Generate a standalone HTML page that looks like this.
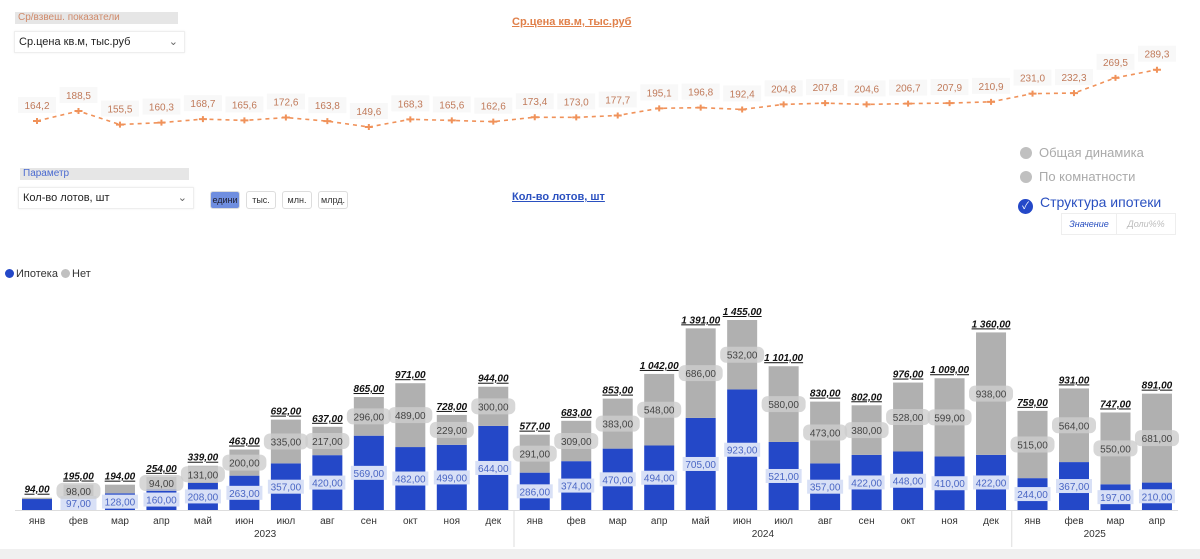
<!DOCTYPE html>
<html><head><meta charset="utf-8">
<style>
body{margin:0;width:1200px;height:559px;background:#fff;font-family:"Liberation Sans","Noto Sans CJK SC",sans-serif;position:relative;overflow:hidden}
.abs{position:absolute}
.hdr{background:#e6e6e6;font-size:10px;height:12px;line-height:12px;padding-left:3px}
.dd{border:1px solid #eee;background:#fff;font-size:11px;color:#222;height:20px;line-height:20px;padding-left:4px;box-shadow:0 0 2px #eee}
.btn{font-size:9px;height:16px;line-height:16px;border:1px solid #ddd;border-radius:3px;text-align:center;color:#333}
.opt{font-size:13px;color:#aaa}
.dot{display:inline-block;width:12px;height:12px;border-radius:6px;vertical-align:-2px;margin-right:7px;background:#c0c0c0}
</style></head><body>
<div class="abs hdr" style="left:15px;top:12px;width:160px;color:#d08a6a">Ср/взвеш. показатели</div>
<div class="abs dd" style="left:14px;top:31px;width:165px">Ср.цена кв.м, тыс.руб<span style="position:absolute;right:6px;color:#666">&#8964;</span></div>
<div class="abs" style="left:512px;top:16px;font-size:11px;font-weight:bold;color:#e0804a;text-decoration:underline">Ср.цена кв.м, тыс.руб</div>
<div class="abs hdr" style="left:20px;top:168px;width:166px;color:#4a6ad0">Параметр</div>
<div class="abs dd" style="left:18px;top:187px;width:170px">Кол-во лотов, шт<span style="position:absolute;right:6px;color:#666">&#8964;</span></div>
<div class="abs btn" style="left:210px;top:191px;width:28px;background:#6f8ee0;color:#223">едини</div>
<div class="abs btn" style="left:246px;top:191px;width:28px">тыс.</div>
<div class="abs btn" style="left:282px;top:191px;width:28px">млн.</div>
<div class="abs btn" style="left:318px;top:191px;width:28px">млрд.</div>
<div class="abs" style="left:512px;top:191px;font-size:11px;font-weight:bold;color:#2a50c0;text-decoration:underline">Кол-во лотов, шт</div>
<div class="abs opt" style="left:1020px;top:145px"><span class="dot"></span>Общая динамика</div>
<div class="abs opt" style="left:1020px;top:169px"><span class="dot"></span>По комнатности</div>
<div class="abs opt" style="left:1018px;top:194px;color:#2a50c0;font-size:14px"><span class="dot" style="background:#2448c8;width:15px;height:15px;border-radius:8px;color:#fff;font-size:10px;text-align:center;line-height:15px">&#10003;</span>Структура ипотеки</div>
<div class="abs" style="left:1061px;top:213px;width:54px;height:20px;border:1px solid #eee;font-size:9px;font-style:italic;color:#2a50c0;text-align:center;line-height:20px">Значение</div>
<div class="abs" style="left:1116px;top:213px;width:58px;height:20px;border:1px solid #eee;font-size:9px;font-style:italic;color:#bbb;text-align:center;line-height:20px">Доли%%</div>
<div class="abs" style="left:5px;top:268px;font-size:11px;color:#333"><span><span class="dot" style="background:#2448c8;width:9px;height:9px;margin-right:2px;vertical-align:-1px"></span>Ипотека</span> <span><span class="dot" style="width:9px;height:9px;margin-right:2px;vertical-align:-1px"></span>Нет</span></div>
<div class="abs" style="left:0;top:549px;width:1200px;height:10px;background:#f0f0f0"></div>
<svg class="abs" style="left:0;top:0" width="1200" height="559" id="svg"></svg>
<script>
const months=["янв","фев","мар","апр","май","июн","июл","авг","сен","окт","ноя","дек","янв","фев","мар","апр","май","июн","июл","авг","сен","окт","ноя","дек","янв","фев","мар","апр"];
const prices=[164.2,188.5,155.5,160.3,168.7,165.6,172.6,163.8,149.6,168.3,165.6,162.6,173.4,173.0,177.7,195.1,196.8,192.4,204.8,207.8,204.6,206.7,207.9,210.9,231.0,232.3,269.5,289.3];
const mortgage=[84,97,128,160,208,263,357,420,569,482,499,644,286,374,470,494,705,923,521,357,422,448,410,422,244,367,197,210];
const noMortgage=[10,98,66,94,131,200,335,217,296,489,229,300,291,309,383,548,686,532,580,473,380,528,599,938,515,564,550,681];
const totals=[94,195,194,254,339,463,692,637,865,971,728,944,577,683,853,1042,1391,1455,1101,830,802,976,1009,1360,759,931,747,891];
const years=[{label:"2023",from:0,to:11},{label:"2024",from:12,to:23},{label:"2025",from:24,to:27}];
const svg=document.getElementById('svg');const NS="http://www.w3.org/2000/svg";
function mk(t,a,txt){const e=document.createElementNS(NS,t);for(const k in a)e.setAttribute(k,a[k]);if(txt!==undefined)e.textContent=txt;svg.appendChild(e);return e;}
const xOf=i=>37+i*41.48;
const yP=v=>121-(v-164.2)*0.41;
const base=510,k=190/1455;const yB=v=>base-v*k;
let d=prices.map((v,i)=>(i?'L':'M')+xOf(i)+','+yP(v)).join(' ');
let ln=mk('path',{d:d,fill:'none',stroke:'#f0925a','stroke-width':1.6,'stroke-dasharray':'4,4'});


prices.forEach((v,i)=>{
 const x=xOf(i),y=yP(v);
 const p=mk('path',{d:`M${x-4},${y}H${x+4}M${x},${y-3}V${y+3}`,stroke:'#f0925a','stroke-width':2});
 
 
 mk('rect',{x:x-19,y:y-24,width:38,height:16,fill:'#f8f8f8'});
 const t=mk('text',{x:x,y:y-12,'text-anchor':'middle','font-size':10,fill:'#c07a5a'},v.toFixed(1).replace('.',','));
 
 
});
const fmt=v=>{let s=String(v);if(v>=1000)s=s.slice(0,-3)+' '+s.slice(-3);return s+',00';};
mortgage.forEach((m,i)=>{
 const x=xOf(i),w=30,n=noMortgage[i];
 const yb=yB(m),yg=yB(m+n);
 const rb=mk('rect',{x:x-w/2,y:yb,width:w,height:base-yb,fill:'#2448c8'});
 
 
 const rg=mk('rect',{x:x-w/2,y:yg,width:w,height:yb-yg,fill:'#b0b0b0'});
 
 
 if(i>0){
  const cb=Math.min((yb+base)/2,503);
  mk('rect',{x:x-18,y:cb-7,width:36,height:14,fill:'#d8e0f6'});
  const tb=mk('text',{x:x,y:cb+4,'text-anchor':'middle','font-size':10,fill:'#4a66c4'},fmt(m));
  
  
  if(n>=80){
   const cg=(yb+yg)/2;
   mk('rect',{x:x-22,y:cg-8,width:44,height:16,rx:6,fill:'#cdcdcd',opacity:0.8});
   const tg=mk('text',{x:x,y:cg+4,'text-anchor':'middle','font-size':10,fill:'#444'},fmt(n));
   
   
  }
 }
 const tt=mk('text',{x:x,y:yg-5,'text-anchor':'middle','font-size':10,'font-weight':'bold','font-style':'italic','text-decoration':'underline',fill:'#111'},fmt(totals[i]));
 
 
 const ml=mk('text',{x:x,y:524,'text-anchor':'middle','font-size':10,fill:'#333'},months[i]);
 
 
});
mk('line',{x1:15,x2:1178,y1:510.5,y2:510.5,stroke:'#ddd'});
years.forEach(yr=>{
 const x=(xOf(yr.from)+xOf(yr.to))/2;
 const t=mk('text',{x:x,y:537,'text-anchor':'middle','font-size':10,fill:'#333'},yr.label);
 
 
 if(yr.from>0){const sx=(xOf(yr.from)+xOf(yr.from-1))/2;mk('line',{x1:sx,x2:sx,y1:510,y2:547,stroke:'#ddd'});}
});
</script>
</body></html>
